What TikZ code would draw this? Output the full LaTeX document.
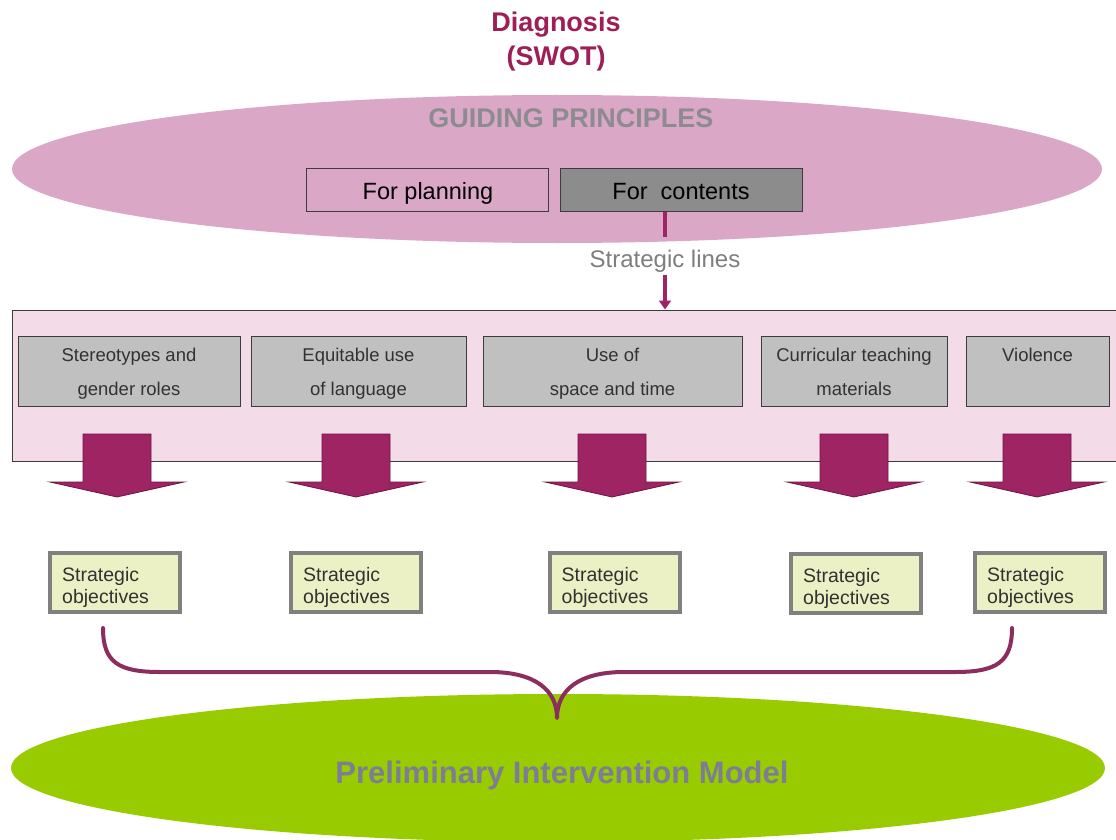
\documentclass[tikz,border=0pt]{standalone}
\usepackage{fontspec}
\setmainfont{Liberation Sans}
\usetikzlibrary{shapes.geometric,arrows.meta,calc}
\definecolor{magT}{RGB}{158,30,86}
\definecolor{magL}{RGB}{158,36,100}
\definecolor{magD}{RGB}{110,20,65}
\definecolor{braceC}{RGB}{140,45,95}
\definecolor{pinkE}{RGB}{219,167,199}
\definecolor{pinkR}{RGB}{243,219,231}
\definecolor{grayT}{RGB}{140,140,144}
\definecolor{grayB}{RGB}{192,192,192}
\definecolor{grayC}{RGB}{140,140,140}
\definecolor{edgeC}{RGB}{60,60,60}
\definecolor{txtC}{RGB}{50,50,50}
\definecolor{soFill}{RGB}{235,241,196}
\definecolor{soEdge}{RGB}{128,128,128}
\definecolor{greenE}{RGB}{153,204,0}
\definecolor{pimT}{RGB}{125,125,150}
\begin{document}
\begin{tikzpicture}[x=1pt,y=-1pt,
  titletext/.style={anchor=base,inner sep=0,text=magT,font=\fontsize{27}{32}\selectfont\bfseries},
  gptext/.style={anchor=base,inner sep=0,text=grayT,font=\fontsize{27}{32}\selectfont\bfseries},
  topbox/.style={draw=edgeC,line width=1pt,minimum width=242,minimum height=43,inner sep=0},
  toptext/.style={anchor=base,inner sep=0,text=black,font=\fontsize{23.5}{28}\selectfont},
  sltext/.style={anchor=base,inner sep=0,text=grayC!90!black,font=\fontsize{24}{28}\selectfont},
  magline/.style={draw=magL,line width=4pt},
  bigrect/.style={draw=edgeC,line width=1pt,fill=pinkR,inner sep=0},
  graybox/.style={draw=edgeC,line width=1pt,fill=grayB,minimum height=70,inner sep=0},
  graytext/.style={anchor=north,inner sep=0,align=center,text=txtC,font=\fontsize{18.5}{34}\selectfont},
  barrow/.style={fill=magL,draw=magD,line width=0.8pt,line join=miter},
  sobox/.style={draw=soEdge,line width=4pt,fill=soFill,minimum width=130,minimum height=59,inner sep=0},
  sotext/.style={anchor=north west,inner sep=0,align=left,text=txtC,font=\fontsize{19.5}{22}\selectfont},
  bracestyle/.style={draw=braceC,line width=4pt,line join=round,line cap=round},
  pimtext/.style={anchor=base,inner sep=0,text=pimT,font=\fontsize{31}{36}\selectfont\bfseries}
]
\useasboundingbox (0,0) rectangle (1116,840);
\fill[white] (0,0) rectangle (1116,840);

% title
\node[titletext] (diag) at (556,32) {Diagnosis};
\node[titletext] (swot) at (556,66) {(SWOT)};

% guiding principles ellipse
\node[ellipse,fill=pinkE,minimum width=1090,minimum height=148,inner sep=0] (gp) at (557,169) {};
\node[gptext] (gpt) at (571,128) {GUIDING PRINCIPLES};
\node[topbox,fill=pinkE] (fp) at (427,189.5) {};
\node[toptext] (fpt) at (428,199) {For planning};
\node[topbox,fill=grayC] (fc) at (681.5,189.5) {};
\node[toptext] (fct) at (681,199) {For\ \ contents};

% strategic lines
\node[sltext] (sl) at (665,267) {Strategic lines};
\coordinate (slTop) at (665,237);
\coordinate (slBot) at (665,275);
\draw[magline] (fc.south -| slTop) -- (slTop);

% big rectangle
\node[bigrect,minimum width=1116,minimum height=151] (lines) at (570,385.5) {};
\draw[magline,-{Triangle[width=12pt,length=9pt]}] (slBot) -- (slBot |- lines.north);

% strategic line boxes
\node[graybox,minimum width=222] (b1) at (129,371) {};
\node[graybox,minimum width=215] (b2) at (358.5,371) {};
\node[graybox,minimum width=259] (b3) at (612.5,371) {};
\node[graybox,minimum width=186] (b4) at (854,371) {};
\node[graybox,minimum width=143] (b5) at (1037.5,371) {};
\node[graytext] (t1) at (129,347.8) {Stereotypes and\\gender roles};
\node[graytext] (t2) at (358.5,347.8) {Equitable use\\of language};
\node[graytext] (t3) at (612.5,347.8) {Use of\\space and time};
\node[graytext] (t4) at (854,347.8) {Curricular teaching\\materials};
\node[graytext] (t5) at (1037.5,347.8) {Violence};

% block arrows
\foreach \t in {117,356,612,854,1037}{
  \draw[barrow] (\t-34,434) -- (\t+34,434) -- (\t+34,482) -- (\t+67,482)
     -- (\t,497) -- (\t-67,482) -- (\t-34,482) -- cycle;
}

% strategic objectives
\node[sobox] (so1) at (115,582) {};
\node[sobox] (so2) at (356,582) {};
\node[sobox] (so3) at (614.5,582) {};
\node[sobox] (so4) at (856,583.5) {};
\node[sobox] (so5) at (1040,582) {};
\foreach \i in {1,...,5}{
  \node[sotext] (sot\i) at ($(so\i.north west)+(14,16.5)$) {Strategic\\objectives};
}

% bottom ellipse
\node[ellipse,fill=greenE,minimum width=1094,minimum height=148,inner sep=0] (pim) at (558,768) {};
\node[pimtext] (pimt) at (562,783) {Preliminary Intervention Model};

% brace
\coordinate (brL) at (103,628);
\coordinate (brR) at (1012,628);
\coordinate (brTip) at (557,718);
\draw[bracestyle] (brL) .. controls (103,662) and (118,672) .. (160,672)
  -- (490,672) .. controls (535,672) and (557,690) .. (brTip)
  .. controls (557,690) and (579,672) .. (624,672)
  -- (955,672) .. controls (997,672) and (1012,662) .. (brR);
\end{tikzpicture}
\end{document}
